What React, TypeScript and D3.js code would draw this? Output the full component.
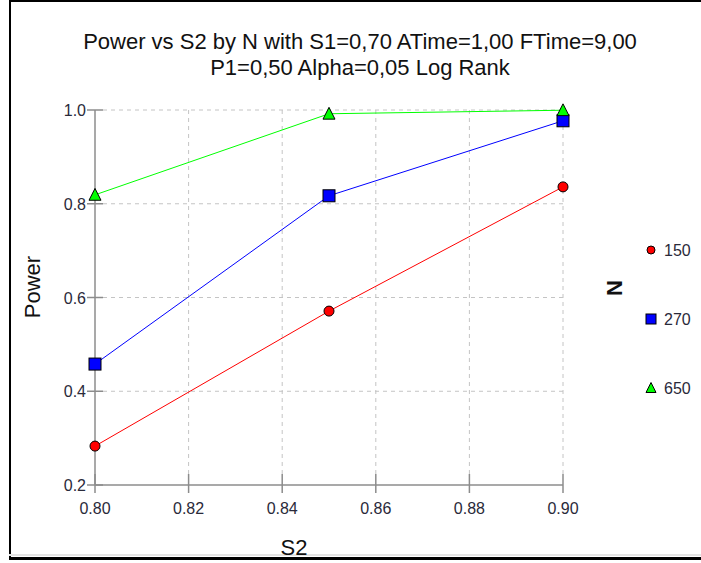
import React from "react";
import * as d3 from "d3";

const xValues = [0.8, 0.85, 0.9];
const seriesNames = ["150", "270", "650"];
const power150 = [0.283, 0.571, 0.836];
const power270 = [0.458, 0.817, 0.977];
const power650 = [0.819, 0.992, 0.9995];
const xTicks = [0.8, 0.82, 0.84, 0.86, 0.88, 0.9];
const yTicks = [0.2, 0.4, 0.6, 0.8, 1.0];
const titleLines = [
  "Power vs S2 by N with S1=0,70 ATime=1,00 FTime=9,00",
  "P1=0,50 Alpha=0,05 Log Rank",
];

const W = 701;
const H = 563;
const FONT = "'Liberation Sans', Arial, sans-serif";

const seriesValues = [power150, power270, power650];
const colors = ["#ff0000", "#0000ff", "#00ff00"];
const shapes = ["circle", "square", "triangle"];

function Marker({ shape, x, y, color, s }: { shape: string; x: number; y: number; color: string; s: number }) {
  if (shape === "circle") {
    return <circle cx={x} cy={y} r={s / 2} fill={color} stroke="#000" strokeWidth={1} />;
  }
  if (shape === "square") {
    return <rect x={x - s / 2} y={y - s / 2} width={s} height={s} fill={color} stroke="#000" strokeWidth={1} />;
  }
  const h = s * 0.9;
  const p = `M${x},${y - h / 2 - 1}L${x + s / 2},${y + h / 2}L${x - s / 2},${y + h / 2}Z`;
  return <path d={p} fill={color} stroke="#000" strokeWidth={1} />;
}

export default function App() {
  const x = d3.scaleLinear().domain([0.8, 0.9]).range([95, 563]);
  const y = d3.scaleLinear().domain([0.2, 1.0]).range([485, 110]);
  const line = d3
    .line<[number, number]>()
    .x((d) => x(d[0]))
    .y((d) => y(d[1]));

  const gridColor = "#c4c4c4";
  const axisColor = "#8c8c8c";
  const labelColor = "#2a2a3a";

  return (
    <svg
      width={W}
      height={H}
      style={{ position: "absolute", left: 0, top: 0, background: "#fff" }}
      fontFamily={FONT}
    >
      <rect x={0} y={0} width={W} height={H} fill="#fff" />
      {/* frame */}
      <rect x={9} y={0} width={W - 9} height={2} fill="#000" />
      <rect x={9} y={0} width={2} height={560} fill="#000" />
      <rect x={9} y={554} width={W - 9} height={2} fill="#e4e4e4" />
      <rect x={9} y={557} width={W - 9} height={3} fill="#000" />

      {/* title */}
      {titleLines.map((t, i) => (
        <text key={i} x={360} y={49 + i * 26} textAnchor="middle" fontSize={22} fill="#111">
          {t}
        </text>
      ))}

      {/* grid */}
      {yTicks
        .filter((v) => v > 0.2)
        .map((v) => (
          <line key={"gy" + v} x1={103} x2={x(0.9)} y1={y(v)} y2={y(v)} stroke={gridColor} strokeDasharray="4,4" />
        ))}
      {xTicks
        .filter((v) => v > 0.8)
        .map((v) => (
          <line key={"gx" + v} x1={x(v)} x2={x(v)} y1={y(1.0)} y2={474} stroke={gridColor} strokeDasharray="4,4" />
        ))}

      {/* axes */}
      <line x1={x(0.8)} x2={x(0.8)} y1={y(1.0)} y2={y(0.2)} stroke={axisColor} strokeWidth={1.5} />
      <line x1={x(0.8)} x2={x(0.9)} y1={y(0.2)} y2={y(0.2)} stroke={axisColor} strokeWidth={1.5} />
      {yTicks.map((v) => (
        <g key={"yt" + v}>
          <line x1={87} x2={103} y1={y(v)} y2={y(v)} stroke={axisColor} strokeWidth={1.5} />
          <text x={86} y={y(v) + 6} textAnchor="end" fontSize={16} fill={labelColor}>
            {d3.format(".1f")(v)}
          </text>
        </g>
      ))}
      {xTicks.map((v) => (
        <g key={"xt" + v}>
          <line x1={x(v)} x2={x(v)} y1={474} y2={493} stroke={axisColor} strokeWidth={1.5} />
          <text x={x(v)} y={514} textAnchor="middle" fontSize={16} fill={labelColor}>
            {d3.format(".2f")(v)}
          </text>
        </g>
      ))}

      {/* axis titles */}
      <text x={294} y={555} textAnchor="middle" fontSize={22} fill="#111">
        S2
      </text>
      <text transform="translate(40,287) rotate(-90)" textAnchor="middle" fontSize={22} fill="#111">
        Power
      </text>

      {/* series lines */}
      {seriesValues.map((vals, i) => (
        <path
          key={"l" + i}
          d={line(vals.map((v, j) => [xValues[j], v] as [number, number])) || ""}
          fill="none"
          stroke={colors[i]}
          strokeWidth={1}
        />
      ))}
      {/* markers */}
      {seriesValues.map((vals, i) =>
        vals.map((v, j) => (
          <Marker key={"m" + i + j} shape={shapes[i]} x={x(xValues[j])} y={y(v)} color={colors[i]} s={i === 0 ? 10 : 12} />
        ))
      )}

      {/* legend */}
      <text transform="translate(622,288) rotate(-90)" textAnchor="middle" fontSize={22} fontWeight="bold" fill="#111">
        N
      </text>
      {seriesNames.map((n, i) => (
        <g key={"lg" + n}>
          <Marker shape={shapes[i]} x={651} y={250 + i * 69} color={colors[i]} s={i === 0 ? 8 : 10} />
          <text x={664} y={250 + i * 69 + 6} fontSize={16} fill={labelColor}>
            {n}
          </text>
        </g>
      ))}
    </svg>
  );
}
